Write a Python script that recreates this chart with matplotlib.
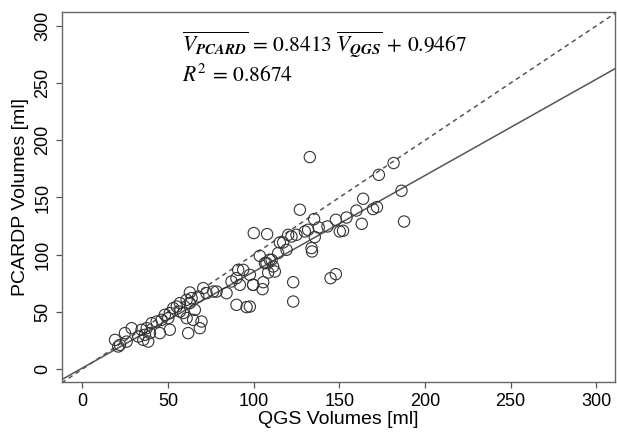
import numpy as np
import matplotlib
matplotlib.use("Agg")
import matplotlib.pyplot as plt

plt.rcParams['font.family'] = ['Liberation Sans', 'DejaVu Sans']
plt.rcParams['mathtext.fontset'] = 'stix'

# QGS volume (x) and PCARDP volume (y)
qgs = [132.8, 181.7, 173.1, 186.3, 163.9, 127.0, 187.8, 160.0, 169.7, 172.0,
       154.2, 148.0, 163.1, 150.3, 152.2, 143.1, 138.0, 135.3, 131.8, 129.9,
       135.7, 133.8, 134.1, 125.0, 120.2, 122.1, 117.2, 119.2, 114.3, 103.6,
       100.1, 107.9, 144.9, 148.0, 123.1, 105.6, 105.2, 99.7, 97.8, 123.1,
       109.4, 111.4, 106.6, 112.4, 108.5, 115.3, 110.5, 107.5,
       91.0, 93.9, 90.0, 97.8, 87.1, 92.0, 99.7, 84.2, 90.0, 95.9,
       76.4, 78.4, 72.5, 70.6, 62.8, 67.7, 63.8,
       60.9, 57.0, 55.1, 53.1, 57.0, 51.1, 48.2, 50.2, 46.3, 43.4,
       62.8, 65.7, 58.9, 60.9, 64.7,
       69.6, 68.6, 61.8, 51.1, 45.3,
       40.5, 37.6, 34.6, 36.6, 39.5, 32.7, 35.6, 38.5,
       28.8, 24.9, 25.9, 22.0, 19.1, 21.0]
pcardp = [185.3, 180.1, 169.8, 155.9, 148.9, 139.3, 129.0, 138.6, 139.9, 141.6,
          132.5, 130.5, 127.0, 120.3, 120.9, 124.7, 123.8, 131.1, 121.8, 120.3,
          115.4, 105.8, 102.8, 117.4, 117.4, 115.9, 110.7, 104.3, 101.4, 99.0,
          118.9, 118.0, 79.5, 83.0, 76.0, 76.0, 69.9, 73.7, 54.7, 59.1,
          95.6, 89.7, 92.7, 85.3, 84.4, 110.7, 95.5, 92.7,
          86.8, 86.8, 79.5, 82.4, 76.6, 73.7, 73.7, 66.4, 56.2, 54.2,
          67.8, 67.8, 66.4, 70.8, 67.0, 63.5, 62.1,
          60.6, 57.7, 54.7, 53.3, 50.3, 49.0, 47.5, 44.6, 43.1, 41.6,
          57.7, 51.8, 49.0, 44.6, 43.1,
          41.6, 35.8, 31.5, 34.4, 31.5,
          40.2, 35.8, 34.4, 30.0, 31.5, 28.5, 25.6, 24.1,
          35.8, 31.5, 24.1, 21.2, 25.6, 19.8]

slope = 0.8413
intercept = 0.9467
r2 = 0.8674
ticks = [0, 50, 100, 150, 200, 250, 300]

fig = plt.figure(figsize=(6.17, 4.32), dpi=100)
ax = fig.add_axes([0.1, 0.115, 0.897, 0.857])

xlim = (-12, 311)
ylim = (-11.5, 312)
xs = np.array(xlim)
ax.plot(xs, xs, linestyle=(0, (3, 2.5)), color='#555555', lw=1.1)
ax.plot(xs, slope * xs + intercept, color='#555555', lw=1.1)
ax.scatter(qgs, pcardp, s=66, facecolors='none', edgecolors='#333333', linewidths=0.8, zorder=3)

ax.set_xlim(xlim)
ax.set_ylim(ylim)
ax.set_xticks(ticks)
ax.set_yticks(ticks)
ax.tick_params(direction='out', length=4.5, width=0.9, color='#555555', labelsize=13, pad=3)
for lab in ax.get_yticklabels():
    lab.set_rotation(90)
    lab.set_va('center')
for sp in ax.spines.values():
    sp.set_color('#666666')
    sp.set_linewidth(1.0)

ax.set_xlabel('QGS Volumes [ml]', fontsize=14, labelpad=1)
ax.set_ylabel('PCARDP Volumes [ml]', fontsize=14, labelpad=4)

eq = (r'$\overline{V_{\mathbfit{PCARD}}}\ \!=\ \!%.4f\ \overline{V_{\mathbfit{QGS}}}\ \!+\ \!%.4f$'
      % (slope, intercept))
ax.text(0.217, 0.893, eq, transform=ax.transAxes, fontsize=15.5, color='black')
ax.text(0.217, 0.812, r'$R^2\ \!=\ \!%.4f$' % r2,
        transform=ax.transAxes, fontsize=15.5, color='black')

fig.savefig('out.png', dpi=100)
